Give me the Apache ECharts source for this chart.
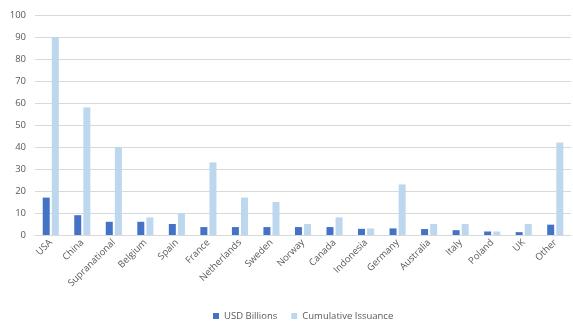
<!DOCTYPE html>
<html>
<head>
<meta charset="utf-8">
<script src="https://cdn.jsdelivr.net/npm/echarts@6/dist/echarts.min.js"></script>
<style>
  html, body { margin: 0; padding: 0; background: #fff; }
  #chart { width: 573px; height: 321px; }
</style>
</head>
<body>
<div id="chart"></div>
<script>
// data
var countries = ['USA', 'China', 'Supranational', 'Belgium', 'Spain', 'France', 'Netherlands', 'Sweden',
  'Norway', 'Canada', 'Indonesia', 'Germany', 'Australia', 'Italy', 'Poland', 'UK', 'Other'];
var usdBillions = [17, 9, 6, 6, 5, 3.6, 3.6, 3.6, 3.6, 3.6, 2.8, 3, 2.7, 2.2, 1.6, 1.3, 4.7];
var cumulative = [90, 58, 40, 8, 10, 33, 17, 15, 5, 8, 3, 23, 5, 5, 1.6, 5, 42];

var font = 'Open Sans';

var option = {
  animation: false,
  textStyle: { fontFamily: font },
  grid: { left: 35, right: 2, top: 15, bottom: 86 },
  legend: {
    top: 306,
    left: 208,
    itemWidth: 6,
    itemHeight: 6,
    itemGap: 14,
    icon: 'rect',
    textStyle: { color: '#595959', fontSize: 9.5, fontFamily: font },
    data: ['USD Billions', 'Cumulative Issuance']
  },
  xAxis: {
    type: 'category',
    data: countries,
    axisLine: { lineStyle: { color: '#d9d9d9' } },
    axisTick: { show: false },
    axisLabel: { rotate: 45, color: '#595959', fontSize: 9.5, interval: 0, margin: 6, fontFamily: font }
  },
  yAxis: {
    type: 'value',
    min: 0,
    max: 100,
    interval: 10,
    axisLine: { show: false },
    axisTick: { show: false },
    axisLabel: { color: '#595959', fontSize: 9.5, margin: 9, fontFamily: font },
    splitLine: { lineStyle: { color: '#d9d9d9' } }
  },
  series: [
    {
      name: 'USD Billions',
      type: 'bar',
      data: usdBillions,
      barWidth: 7,
      barGap: '30%',
      itemStyle: { color: '#4472c4' }
    },
    {
      name: 'Cumulative Issuance',
      type: 'bar',
      data: cumulative,
      barWidth: 7,
      itemStyle: { color: '#bdd7ee' }
    }
  ]
};

echarts.init(document.getElementById('chart')).setOption(option);
</script>
</body>
</html>
